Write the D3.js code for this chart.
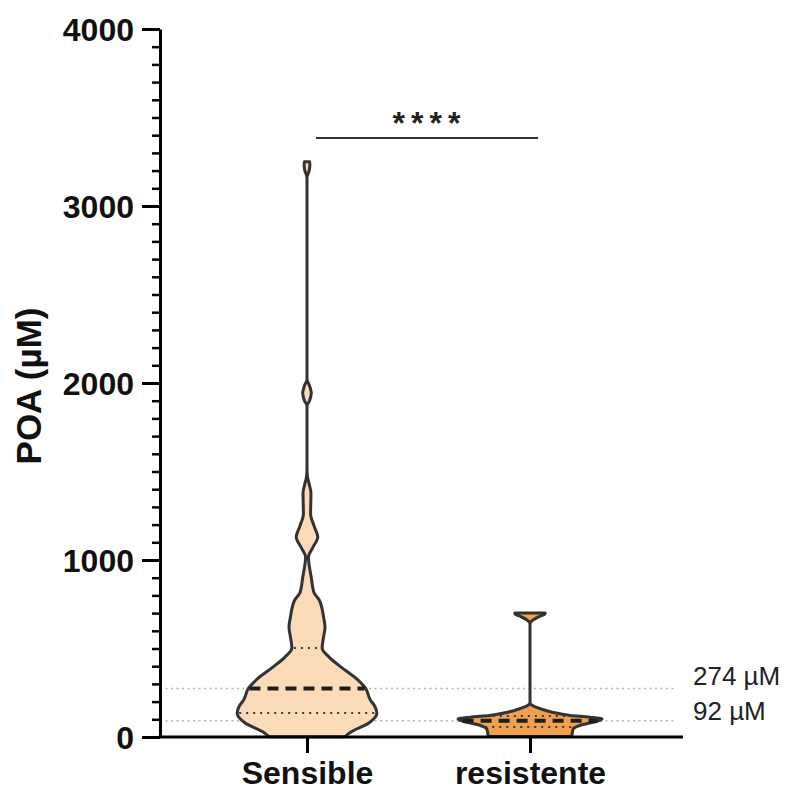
<!DOCTYPE html>
<html>
<head>
<meta charset="utf-8">
<script src="https://cdn.jsdelivr.net/npm/d3@7"></script>
<style>
  html, body { margin: 0; padding: 0; background: #fff; }
  svg { display: block; }
  text { font-family: "Liberation Sans", Arial, sans-serif; }
</style>
</head>
<body>
<svg id="chart" width="787" height="792"></svg>
<script>
// ---------------- data ----------------
const categories = ["Sensible", "resistente"];

// violin outlines: value (µM) and relative density (0-100)
const sensibleValues  = [2, 28, 79, 135, 175, 209, 277, 335, 396, 450, 503, 565, 620, 678, 774, 813, 900, 1017, 1070, 1130, 1190, 1260, 1378, 1430, 1470, 1520, 1870, 1900, 1943, 1985, 2020, 3160, 3200, 3235, 3250];
const sensibleDensity = [53, 61, 86, 97, 94, 88, 81, 67, 47, 31, 21, 23, 25, 23, 17, 10, 6, 2, 8, 15, 10, 5, 5.5, 3, 0.7, 0, 0, 3.5, 6, 3.5, 0, 0, 3, 4, 3.5];

const resistenteValues  = [3, 45, 65, 90, 102, 112, 122, 140, 160, 181, 195, 640, 660, 680, 697, 700];
const resistenteDensity = [58, 60, 69, 94, 100, 83, 56, 31, 14, 2, 0, 0, 4, 12.5, 21, 21];

const medians   = [274, 92];
const quartile1 = [135, 56];
const quartile3 = [503, 119];

const refLineValues = [274, 92];
const refLineLabels = ["274 µM", "92 µM"];

const yMajorTicks = [0, 1000, 2000, 3000, 4000];
const yMinorTicks = d3.range(0, 4001, 100);

const significance = "****";
const yTitle = "POA (µM)";

// ---------------- styles ----------------
const fills = ["#FCDBB9", "#F0A04E"];
const strokeColor = "#333333";

// ---------------- scales ----------------
const svg = d3.select("#chart");
const y = d3.scaleLinear().domain([0, 4000]).range([737, 29]);
const x = d3.scalePoint().domain(categories).range([307, 530]);
const w = d3.scaleLinear().domain([0, 100]).range([0, 72]);
const axisLeftX = 160, axisRightX = 683;

const profiles = [
  sensibleValues.map((v, i) => ({v, d: sensibleDensity[i]})),
  resistenteValues.map((v, i) => ({v, d: resistenteDensity[i]}))
];

function densityAt(profile, v) {
  const i = d3.bisector(p => p.v).left(profile, v);
  if (i <= 0) return profile[0].d;
  if (i >= profile.length) return profile[profile.length - 1].d;
  const a = profile[i - 1], b = profile[i];
  const t = (v - a.v) / (b.v - a.v);
  return a.d + t * (b.d - a.d);
}

// ---------------- reference lines ----------------
const ref = svg.append("g");
ref.selectAll("line").data(refLineValues).join("line")
  .attr("x1", axisLeftX).attr("x2", 677)
  .attr("y1", d => y(d)).attr("y2", d => y(d))
  .attr("stroke", "#b5b5b5").attr("stroke-width", 1.5)
  .attr("stroke-dasharray", "2,3.5");
ref.selectAll("text").data(refLineLabels).join("text")
  .attr("x", 693)
  .attr("y", (d, i) => i === 0 ? y(refLineValues[0]) - 4 : y(refLineValues[1]) - 1)
  .attr("font-size", 26).attr("fill", "#222")
  .text(d => d);

// ---------------- violins ----------------
categories.forEach((c, ci) => {
  const cx = x(c);
  const area = d3.area()
    .y(p => y(p.v))
    .x0(p => cx - w(p.d))
    .x1(p => cx + w(p.d))
    .curve(d3.curveMonotoneY);
  svg.append("path")
    .datum(profiles[ci])
    .attr("d", area)
    .attr("fill", fills[ci])
    .attr("stroke", strokeColor)
    .attr("stroke-width", 3)
    .attr("stroke-linejoin", "round");

  // quartiles (dotted)
  [quartile1[ci], quartile3[ci]].forEach(q => {
    const hw = w(densityAt(profiles[ci], q)) - 2;
    svg.append("line")
      .attr("x1", cx - hw).attr("x2", cx + hw)
      .attr("y1", y(q)).attr("y2", y(q))
      .attr("stroke", "#3a3a3a").attr("stroke-width", 2)
      .attr("stroke-dasharray", "2,5");
  });
  // median (dashed)
  const mhw = w(densityAt(profiles[ci], medians[ci])) - 1;
  svg.append("line")
    .attr("x1", cx - mhw).attr("x2", cx + mhw)
    .attr("y1", y(medians[ci])).attr("y2", y(medians[ci]))
    .attr("stroke", "#1e1e1e").attr("stroke-width", 4)
    .attr("stroke-dasharray", "11,7");
});

// ---------------- axes ----------------
const yMinor = svg.append("g")
  .attr("transform", `translate(${axisLeftX},0)`)
  .call(d3.axisLeft(y).tickValues(yMinorTicks).tickSize(8).tickSizeOuter(0).tickFormat(""));
yMinor.select(".domain").remove();
yMinor.selectAll(".tick line").attr("stroke", "#000").attr("stroke-width", 2.5);

const yAxis = svg.append("g")
  .attr("transform", `translate(${axisLeftX},0)`)
  .call(d3.axisLeft(y).tickValues(yMajorTicks).tickFormat(d3.format("d"))
        .tickSize(18).tickSizeOuter(0).tickPadding(8));
yAxis.select(".domain").attr("stroke", "#000").attr("stroke-width", 3);
yAxis.selectAll(".tick line").attr("stroke", "#000").attr("stroke-width", 3);
yAxis.selectAll(".tick text")
  .attr("font-size", 32).attr("font-weight", "bold").attr("fill", "#111")
  .attr("font-family", "'Liberation Sans', Arial, sans-serif")
  .attr("dy", "0.36em");

const xAxisScale = d3.scaleLinear().domain([0, 1]).range([axisLeftX - 1.5, axisRightX]);
svg.append("line")
  .attr("x1", xAxisScale(0)).attr("x2", xAxisScale(1))
  .attr("y1", y(0)).attr("y2", y(0))
  .attr("stroke", "#000").attr("stroke-width", 3);

const xAxis = svg.append("g")
  .attr("transform", `translate(0,${y(0)})`)
  .call(d3.axisBottom(x).tickSize(16).tickSizeOuter(0).tickPadding(8));
xAxis.select(".domain").remove();
xAxis.selectAll(".tick line").attr("stroke", "#000").attr("stroke-width", 3);
xAxis.selectAll(".tick text")
  .attr("font-size", 32).attr("font-weight", "bold").attr("fill", "#111")
  .attr("font-family", "'Liberation Sans', Arial, sans-serif")
  .attr("dy", "0.71em");

// ---------------- y title ----------------
svg.append("text")
  .attr("transform", `translate(41,${(y(0) + y(4000)) / 2 + 3}) rotate(-90)`)
  .attr("text-anchor", "middle")
  .attr("font-size", 35).attr("font-weight", "bold").attr("fill", "#111")
  .text(yTitle);

// ---------------- significance ----------------
svg.append("line")
  .attr("x1", x(categories[0]) + 9).attr("x2", x(categories[1]) + 8)
  .attr("y1", 138).attr("y2", 138)
  .attr("stroke", "#333").attr("stroke-width", 2);
svg.append("text")
  .attr("x", (x(categories[0]) + x(categories[1])) / 2 + 11)
  .attr("y", 134)
  .attr("text-anchor", "middle")
  .attr("font-size", 32).attr("font-weight", "bold").attr("fill", "#222")
  .attr("letter-spacing", 6)
  .text(significance);
</script>
</body>
</html>
